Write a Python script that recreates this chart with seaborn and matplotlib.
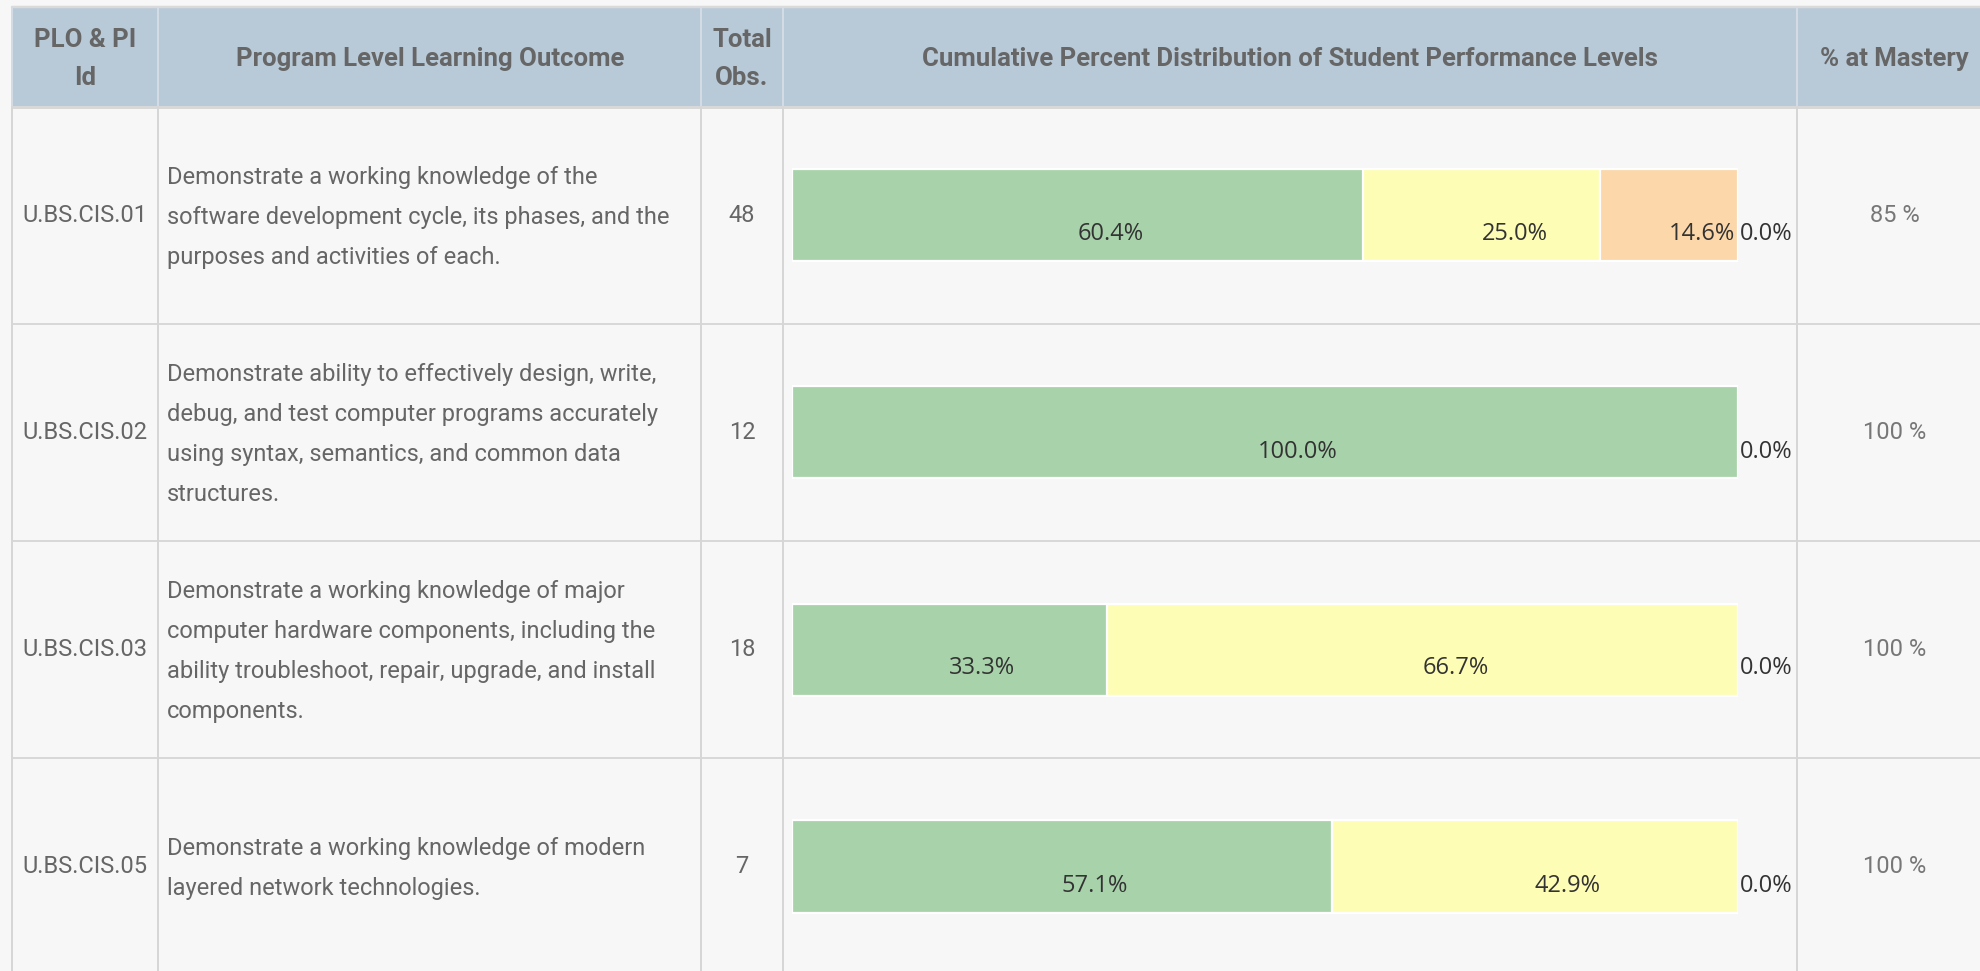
import numpy as np
import pandas as pd
import matplotlib
matplotlib.use("Agg")
import matplotlib.pyplot as plt
from matplotlib.patches import Rectangle
import seaborn as sb

# table data
plo_ids = ["U.BS.CIS.01", "U.BS.CIS.02", "U.BS.CIS.03", "U.BS.CIS.05"]
outcomes = [
    ["Demonstrate a working knowledge of the",
     "software development cycle, its phases, and the",
     "purposes and activities of each."],
    ["Demonstrate ability to effectively design, write,",
     "debug, and test computer programs accurately",
     "using syntax, semantics, and common data",
     "structures."],
    ["Demonstrate a working knowledge of major",
     "computer hardware components, including the",
     "ability troubleshoot, repair, upgrade, and install",
     "components."],
    ["Demonstrate a working knowledge of modern",
     "layered network technologies."],
]
total_obs = [48, 12, 18, 7]
mastery_pct = [85, 100, 100, 100]

# performance levels (percent of students)
level1 = [60.4, 100.0, 33.3, 57.1]
level2 = [25.0, 0.0, 66.7, 42.9]
level3 = [14.6, 0.0, 0.0, 0.0]
level4 = [0.0, 0.0, 0.0, 0.0]

headers = ["PLO & PI\nId", "Program Level Learning Outcome", "Total\nObs.",
           "Cumulative Percent Distribution of Student Performance Levels", "% at Mastery"]

level_colors = ["#a8d3aa", "#fdfdb5", "#fbd7aa", "#f5a9a9"]

sb.set_style("white")
plt.rcParams['font.family'] = ['Roboto', 'DejaVu Sans']

W, H = 1980, 971
fig = plt.figure(figsize=(19.8, 9.71), dpi=100)
fig.patch.set_facecolor('#f7f7f7')

# table grid drawn in pixel coordinates
tab = fig.add_axes([0, 0, 1, 1])
tab.set_xlim(0, W)
tab.set_ylim(H, 0)
tab.axis('off')

col_x = [12, 158, 701, 783, 1797, 1995]
head_top, head_bot, row_h = 7, 107, 217
px = 0.72  # points per pixel

tab.add_patch(Rectangle((col_x[0], head_top), W - col_x[0], head_bot - head_top,
                        facecolor='#b8c9d8', edgecolor='none', zorder=0))
tab.plot([col_x[0], W], [head_top, head_top], color='#dadada', lw=2.5 * px)
for k in range(5):
    yk = head_bot + k * row_h
    tab.plot([col_x[0], W], [yk, yk], color='#d8d8d8', lw=(3 if k == 0 else 2) * px)
for x in col_x[:-1]:
    tab.plot([x, x], [head_top, head_bot], color='#d3dce5', lw=2 * px)
    tab.plot([x, x], [head_bot, H], color='#d6d6d6', lw=2 * px)

# header texts
head_cx = [85, 430, 742, 1290, 1894]
for cx, h in zip(head_cx, headers):
    lines = h.split("\n")
    for j, ln in enumerate(lines):
        y = 59 + (j - (len(lines) - 1) / 2) * 38
        tab.text(cx, y, ln, ha='center', va='center', fontsize=18.5,
                 fontweight='bold', color='#666666')

# body texts
for i in range(len(plo_ids)):
    cy = head_bot + row_h * (i + 0.5)
    tab.text(85, cy, plo_ids[i], ha='center', va='center', fontsize=17, color='#666666')
    n = len(outcomes[i])
    for j, ln in enumerate(outcomes[i]):
        tab.text(167, cy + 2 + (j - (n - 1) / 2) * 40, ln, ha='left', va='center',
                 fontsize=17, color='#666666')
    tab.text(742, cy, str(total_obs[i]), ha='center', va='center', fontsize=17, color='#666666')
    tab.text(1895, cy, f"{mastery_pct[i]} %", ha='center', va='center', fontsize=17, color='#777777')

# stacked bars
bar_l, bar_r = 791.5, 1738
bx = fig.add_axes([bar_l / W, (H - (head_bot + 4 * row_h)) / H,
                   (bar_r - bar_l) / W, 4 * row_h / H])
bx.patch.set_alpha(0)

df = pd.DataFrame({"plo": plo_ids, "l1": level1, "l2": level2, "l3": level3, "l4": level4})
levels = ["l1", "l2", "l3", "l4"]
cum = df[levels].cumsum(axis=1)
for k in range(3, -1, -1):
    sb.barplot(x=cum[levels[k]], y=df["plo"], orient='h', color=level_colors[k],
               saturation=1, width=92 / row_h, edgecolor='white', linewidth=1.6,
               errorbar=None, ax=bx)

lab_font = dict(fontsize=17, color='#333333', family=['Open Sans', 'DejaVu Sans'])
for i in range(len(df)):
    left = 0.0
    for k in range(3):
        v = df[levels[k]][i]
        if v > 0:
            bx.annotate(f"{v:.1f}%", xy=(left + v / 2, i), xytext=(33, -19),
                        textcoords='offset pixels', ha='center', va='center', **lab_font)
        left += v
    bx.annotate(f"{df['l4'][i]:.1f}%", xy=(cum['l4'][i], i), xytext=(2, -19),
                textcoords='offset pixels', ha='left', va='center', **lab_font)

bx.set_xlim(0, 100)
bx.set_ylim(3.5, -0.5)
bx.axis('off')

fig.savefig("out.png", dpi=100, facecolor=fig.get_facecolor())
